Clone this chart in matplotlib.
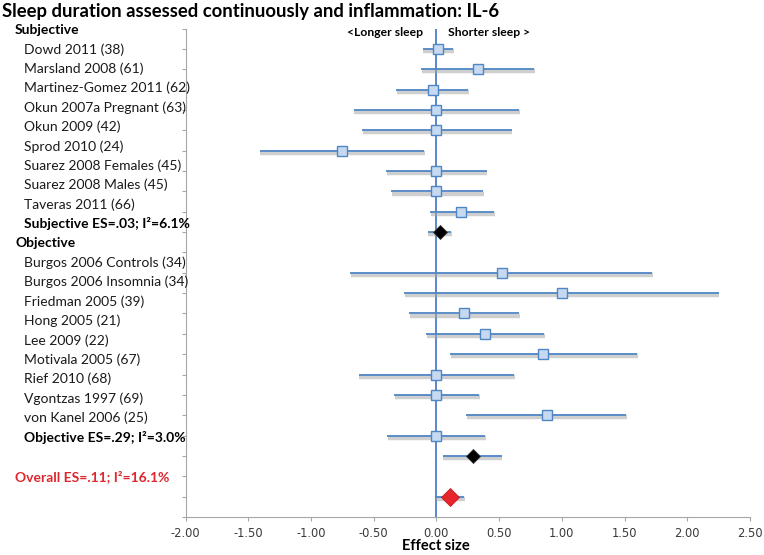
import matplotlib
matplotlib.use("Agg")
import matplotlib.pyplot as plt
import matplotlib.patheffects as pe
import numpy as np

# labels (left text box)
subj_names = ["Dowd 2011 (38)", "Marsland 2008 (61)", "Martinez-Gomez 2011 (62)",
              "Okun 2007a Pregnant (63)", "Okun 2009 (42)", "Sprod 2010 (24)",
              "Suarez 2008 Females (45)", "Suarez 2008 Males (45)", "Taveras 2011 (66)"]
obj_names = ["Burgos 2006 Controls (34)", "Burgos 2006 Insomnia (34)", "Friedman 2005 (39)",
             "Hong 2005 (21)", "Lee 2009 (22)", "Motivala 2005 (67)", "Rief 2010 (68)",
             "Vgontzas 1997 (69)", "von Kanel 2006 (25)"]

# effect sizes and confidence limits
subj_es = [0.01, 0.33, -0.03, 0.00, 0.00, -0.75, 0.00, 0.00, 0.20]
subj_lo = [-0.11, -0.12, -0.32, -0.66, -0.59, -1.41, -0.40, -0.36, -0.05]
subj_hi = [0.13, 0.78, 0.25, 0.66, 0.60, -0.10, 0.40, 0.37, 0.46]

obj_es = [0.52, 1.00, 0.22, 0.39, 0.85, 0.00, 0.00, 0.88, 0.00]
obj_lo = [-0.69, -0.26, -0.22, -0.08, 0.11, -0.62, -0.34, 0.24, -0.39]
obj_hi = [1.72, 2.25, 0.66, 0.86, 1.60, 0.62, 0.34, 1.51, 0.39]

subj_sum = (0.03, -0.07, 0.12)
obj_sum = (0.29, 0.05, 0.52)
overall_sum = (0.11, -0.01, 0.22)

xticks = [-2.0, -1.5, -1.0, -0.5, 0.0, 0.5, 1.0, 1.5, 2.0, 2.5]

BLUE = "#4f86c6"
FONT = "Lato"
W, H = 764, 555

fig = plt.figure(figsize=(W / 100, H / 100), dpi=100)
ax = fig.add_axes([185.5 / W, 1 - 517 / H, (750 - 185.5) / W, (517 - 28.5) / H])

shadow = [pe.SimpleLineShadow(offset=(0.6, -1.6), shadow_color="#a8a8a8", alpha=0.55, linewidth=3.2),
          pe.Normal()]

ax.axvline(0, color="#3d73c2", lw=1.2, zorder=2)

subj_rows = np.arange(23, 23 - len(subj_es), -1)
obj_rows = np.arange(12, 12 - len(obj_es), -1)

for rows, es, lo, hi in [(subj_rows, subj_es, subj_lo, subj_hi), (obj_rows, obj_es, obj_lo, obj_hi)]:
    for r, e, l, h in zip(rows, es, lo, hi):
        ax.plot([l, h], [r, r], color=BLUE, lw=1.3, path_effects=shadow, zorder=3,
                solid_capstyle="butt")
        ax.plot(e, r, marker="s", ms=7.8, mfc="#c6d9f0", mec=BLUE, mew=1.0, zorder=5)

# summary diamonds
for (e, l, h), r, c, ms in [(subj_sum, 14, "black", 7), (obj_sum, 3, "black", 7),
                            (overall_sum, 1, "#e8242c", 9.5)]:
    ax.plot([l, h], [r, r], color=BLUE, lw=1.3, path_effects=shadow, zorder=3,
            solid_capstyle="butt")
    ax.plot(e, r, marker="D", ms=ms, mfc=c, mec="#333333" if c == "black" else "#c01a20",
            mew=0.6, zorder=5)

ax.set_xlim(-2.0, 2.5)
ax.set_ylim(0, 24)
ax.set_xticks(xticks)
ax.set_xticklabels(["%.2f" % t for t in xticks], fontsize=8.3, color="#3a3a3a",
                   family="DejaVu Sans")
ax.set_yticks(np.arange(0, 25))
ax.set_yticklabels([])
for s in ["top", "right"]:
    ax.spines[s].set_visible(False)
for s in ["left", "bottom"]:
    ax.spines[s].set_color("#a6a6a6")
ax.tick_params(axis="both", color="#a6a6a6", length=3, width=0.8, direction="out", pad=4)

# x label
fig.text(436 / W, 1 - 546 / H, "Effect size", ha="center", va="center", fontsize=10.5,
         fontweight="bold", family=FONT)

# direction labels
ax.text(-0.11, 23.8, "<Longer sleep", ha="right", va="center", fontsize=8.7,
        fontweight="bold", family=FONT)
ax.text(0.09, 23.8, "Shorter sleep >", ha="left", va="center", fontsize=8.7,
        fontweight="bold", family=FONT)

# title
fig.text(2 / W, 1 - 12 / H, "Sleep duration assessed continuously and inflammation: IL-6",
         ha="left", va="center", fontsize=13.3, fontweight="bold", family=FONT)

# left text box
def ypx(k):
    return 1 - (30 + k * 19.4) / H

fig.text(15 / W, ypx(0), "Subjective", fontsize=10, fontweight="bold", family=FONT, va="center")
for i, name in enumerate(subj_names):
    fig.text(24 / W, ypx(1 + i), name, fontsize=10, family=FONT, va="center", color="#1a1a1a")
fig.text(24 / W, ypx(10), "Subjective ES=.03; I²=6.1%", fontsize=10, fontweight="bold",
         family=FONT, va="center")
fig.text(15 / W, ypx(11), "Objective", fontsize=10, fontweight="bold", family=FONT, va="center")
for i, name in enumerate(obj_names):
    fig.text(24 / W, ypx(12 + i), name, fontsize=10, family=FONT, va="center", color="#1a1a1a")
fig.text(24 / W, ypx(21), "Objective ES=.29; I²=3.0%", fontsize=10, fontweight="bold",
         family=FONT, va="center")
fig.text(15 / W, ypx(23), "Overall ES=.11; I²=16.1%", fontsize=10, fontweight="bold",
         family=FONT, va="center", color="#e0262d")

fig.savefig("out.png", dpi=100)
